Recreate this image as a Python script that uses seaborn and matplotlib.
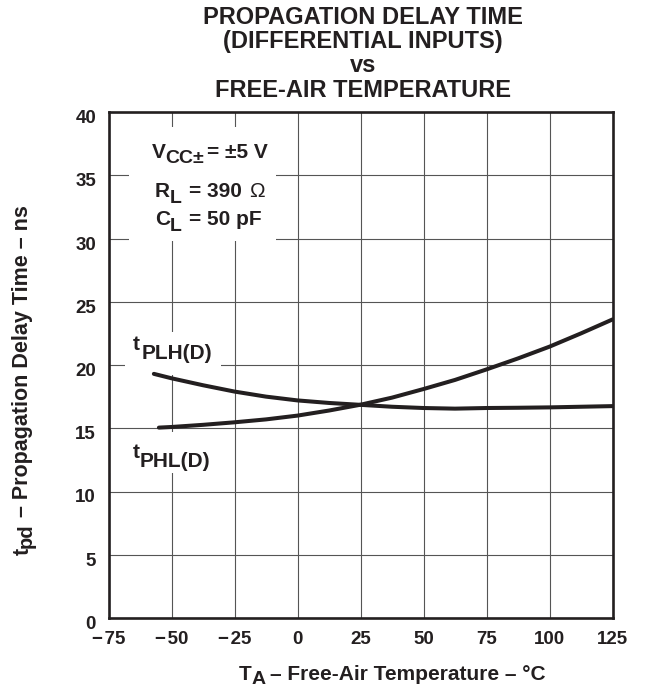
import matplotlib
matplotlib.use("Agg")
import matplotlib.pyplot as plt
import numpy as np
import pandas as pd
import seaborn as sns
from matplotlib.patches import Rectangle
from matplotlib.transforms import ScaledTranslation

# ---------------- data ----------------
temp_plh = [-57, -50, -37.5, -25, -12.5, 0, 12.5, 25, 37.5, 50, 62.5, 75, 87.5, 100, 112.5, 125]
tplh = [19.3, 18.95, 18.4, 17.9, 17.5, 17.2, 17.0, 16.85, 16.7, 16.6, 16.55, 16.6, 16.62, 16.65, 16.7, 16.75]
temp_phl = [-55, -50, -37.5, -25, -12.5, 0, 12.5, 25, 37.5, 50, 62.5, 75, 87.5, 100, 112.5, 125]
tphl = [15.05, 15.1, 15.27, 15.47, 15.7, 16.0, 16.4, 16.86, 17.42, 18.1, 18.82, 19.65, 20.52, 21.45, 22.5, 23.6]
x_ticks = [-75, -50, -25, 0, 25, 50, 75, 100, 125]
y_ticks = [0, 5, 10, 15, 20, 25, 30, 35, 40]
title = "PROPAGATION DELAY TIME\n(DIFFERENTIAL INPUTS)\nvs\nFREE-AIR TEMPERATURE"

sns.set_theme(style="white")
plt.rcParams['font.family'] = ['Liberation Sans', 'DejaVu Sans']
plt.rcParams['font.weight'] = 'bold'

INK = '#231f20'
PX = 0.72  # points per pixel at dpi 100

fig = plt.figure(figsize=(6.47, 6.88), dpi=100)
ax = fig.add_axes([108.5 / 647, 1 - 618 / 688, 504 / 647, 506 / 688])

df = pd.concat([
    pd.DataFrame({'temp': temp_plh, 'delay': tplh, 'series': 'tPLH(D)'}),
    pd.DataFrame({'temp': temp_phl, 'delay': tphl, 'series': 'tPHL(D)'}),
], ignore_index=True)
sns.lineplot(data=df, x='temp', y='delay', hue='series', palette=[INK, INK],
             legend=False, linewidth=2.9, ax=ax, zorder=2)

ax.set_xlim(-75, 125)
ax.set_ylim(0, 40)
ax.set_xticks(x_ticks)
ax.set_yticks(y_ticks)
ax.set_xticklabels([("\u2212\u200a" + str(abs(v))) if v < 0 else str(v) for v in x_ticks])
ax.set_yticklabels([str(v) for v in y_ticks])
ax.set_xlabel("")
ax.set_ylabel("")
ax.set_axisbelow(True)
ax.grid(True, color='#555555', linewidth=0.8)
ax.tick_params(length=0, labelsize=13.5, colors=INK, pad=9)
for lab in ax.get_xticklabels() + ax.get_yticklabels():
    lab.set_fontweight('bold')
for s in ax.spines.values():
    s.set_linewidth(1.9)
    s.set_color(INK)
    s.set_visible(True)

# shift y tick labels slightly downward like the reference
off = ScaledTranslation(0, -4.5 / 100, fig.dpi_scale_trans)
for t in ax.yaxis.get_major_ticks():
    t.label1.set_transform(t.label1.get_transform() + off)

# white boxes behind the annotations (hide grid)
for (x0, y0, w, h) in [(0.0407, 0.745, 0.2917, 0.2253),
                       (0.0327, 0.480, 0.190, 0.085),
                       (0.0, 0.2866, 0.231, 0.081)]:
    ax.add_patch(Rectangle((x0, y0), w, h, transform=ax.transAxes,
                           facecolor='white', edgecolor='none', zorder=1))


def hchain(x, y, pieces):
    prev = None
    for txt, gap, dy, size, weight in pieces:
        if prev is None:
            prev = ax.annotate(txt, xy=(x, y), xycoords='axes fraction',
                               xytext=(0, dy * PX), textcoords='offset points',
                               ha='left', va='baseline', fontsize=size,
                               fontweight=weight, color=INK, zorder=3)
        else:
            prev = ax.annotate(txt, xy=(1, y), xycoords=(prev, ax.transAxes),
                               xytext=(gap * PX, dy * PX), textcoords='offset points',
                               ha='left', va='baseline', fontsize=size,
                               fontweight=weight, color=INK, zorder=3)


def vchain(x, y, pieces):
    prev = None
    for txt, gap, dx, size, weight in pieces:
        if prev is None:
            prev = ax.annotate(txt, xy=(x, y), xycoords='axes fraction',
                               xytext=(dx * PX, 0), textcoords='offset points',
                               ha='left', va='baseline', rotation=90,
                               rotation_mode='anchor', fontsize=size,
                               fontweight=weight, color=INK)
        else:
            prev = ax.annotate(txt, xy=(x, 1), xycoords=(ax.transAxes, prev),
                               xytext=(dx * PX, gap * PX), textcoords='offset points',
                               ha='left', va='baseline', rotation=90,
                               rotation_mode='anchor', fontsize=size,
                               fontweight=weight, color=INK)


# condition box
hchain(0.0857, 0.9085, [("V", 0, 0, 15, 'bold'),
                        ("CC\u00b1", 0, -5, 14, 'bold'),
                        ("= \u00b15 V", 3, 0, 15, 'bold')])
hchain(0.0923, 0.832, [("R", 0, 0, 15, 'bold'),
                       ("L", 0, -6, 14, 'bold'),
                       ("= 390", 7, 0, 15, 'bold'),
                       ("\u03a9", 7, 0, 15, 'normal')])
hchain(0.0923, 0.7767, [("C", 0, 0, 15, 'bold'),
                        ("L", 0, -6.5, 14, 'bold'),
                        ("= 50 pF", 7, 0, 15, 'bold')])

# curve labels
hchain(0.049, 0.5296, [("t", 0, 0, 15, 'bold'), ("PLH(D)", 1.5, -9, 15, 'bold')])
hchain(0.0472, 0.3156, [("t", 0, 0, 15, 'bold'), ("PHL(D)", 0.5, -8.4, 15, 'bold')])

# axis labels
hchain(0.2575, -0.1235, [("T", 0, 0, 15, 'bold'), ("A", 0, -4, 14, 'bold'),
                         ("\u2013 Free-Air Temperature \u2013 \u00b0C", 5, 0, 15, 'bold')])
vchain(-0.159, 0.1245, [("t", 0, 0, 15.5, 'bold'), ("pd", 0, 3, 14.5, 'bold'),
                        ("\u2013 Propagation Delay Time \u2013 ns", 6, 0, 15.5, 'bold')])

fig.text(363 / 647, 1 - 96.7 / 688, title, ha='center', va='baseline',
         fontsize=17, fontweight='bold', linespacing=1.07, color=INK)

fig.savefig("out.png", dpi=100)
